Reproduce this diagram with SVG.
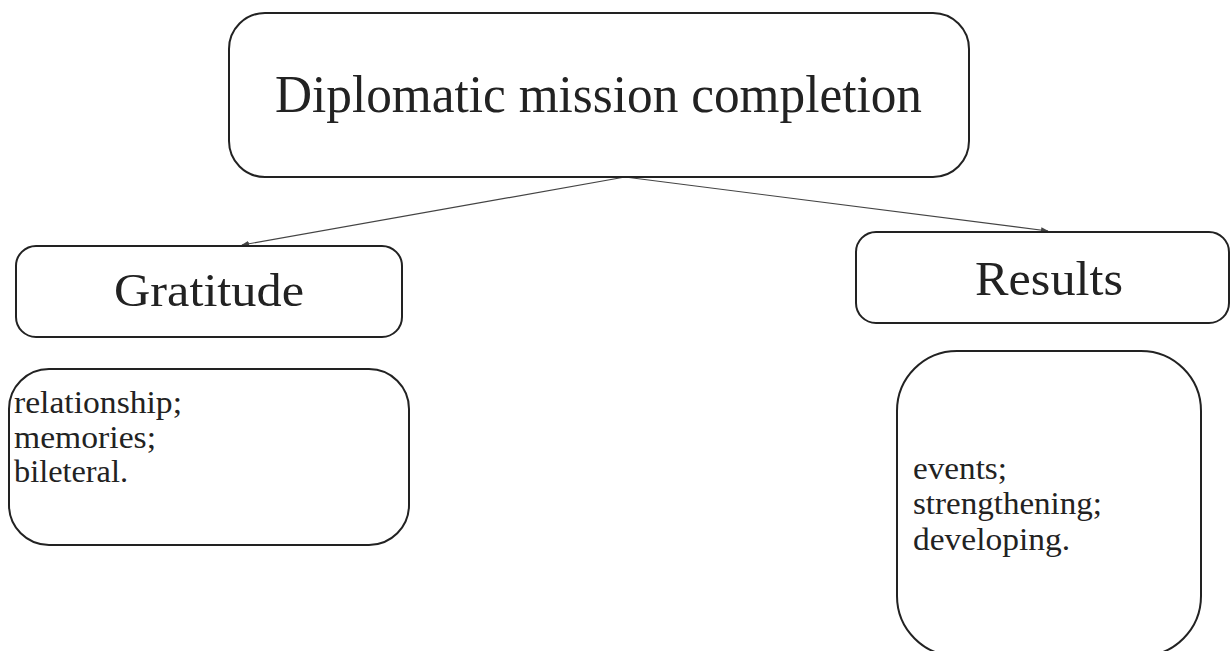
<svg xmlns="http://www.w3.org/2000/svg" width="1230" height="651" viewBox="0 0 1230 651">
<style>
.box{fill:#fff;stroke:#222;stroke-width:2}
.t{font-family:"Liberation Serif","Times New Roman",serif;fill:#222}
.conn{stroke:#444;stroke-width:1.2;fill:none}
</style>
<defs>
<marker id="ah" markerWidth="8" markerHeight="6" refX="7" refY="3" orient="auto" markerUnits="userSpaceOnUse">
<path d="M0,0 L8,3 L0,6 z" fill="#444"/>
</marker>
</defs>
<rect width="1230" height="651" fill="#fff"/>
<g id="connectors">
<line class="conn" x1="625" y1="177" x2="242" y2="245" marker-end="url(#ah)"/>
<line class="conn" x1="625" y1="177" x2="1048" y2="231" marker-end="url(#ah)"/>
</g>
<g id="top">
<rect class="box" x="229" y="13" width="740" height="164" rx="36" ry="36"/>
<text class="t" x="275" y="112" font-size="52" textLength="647" lengthAdjust="spacingAndGlyphs">Diplomatic mission completion</text>
</g>
<g id="gratitude">
<rect class="box" x="16" y="246" width="386" height="91" rx="20" ry="20"/>
<text class="t" x="114" y="306" font-size="47" textLength="190" lengthAdjust="spacingAndGlyphs">Gratitude</text>
</g>
<g id="results">
<rect class="box" x="856" y="232" width="373" height="91" rx="20" ry="20"/>
<text class="t" x="975" y="295" font-size="49" textLength="148" lengthAdjust="spacingAndGlyphs">Results</text>
</g>
<g id="gratitude-list">
<rect class="box" x="9" y="369" width="400" height="176" rx="40" ry="40"/>
<text class="t" font-size="31"><tspan x="14" y="413" textLength="168" lengthAdjust="spacingAndGlyphs">relationship;</tspan></text>
<text class="t" font-size="31"><tspan x="14" y="448" textLength="142" lengthAdjust="spacingAndGlyphs">memories;</tspan></text>
<text class="t" font-size="31"><tspan x="14" y="482" textLength="114" lengthAdjust="spacingAndGlyphs">bileteral.</tspan></text>
</g>
<g id="results-list">
<rect class="box" x="897" y="351" width="304" height="305" rx="60" ry="60"/>
<text class="t" font-size="31"><tspan x="913" y="479" textLength="94" lengthAdjust="spacingAndGlyphs">events;</tspan></text>
<text class="t" font-size="31"><tspan x="913" y="514" textLength="189" lengthAdjust="spacingAndGlyphs">strengthening;</tspan></text>
<text class="t" font-size="31"><tspan x="913" y="550" textLength="157" lengthAdjust="spacingAndGlyphs">developing.</tspan></text>
</g>
</svg>
